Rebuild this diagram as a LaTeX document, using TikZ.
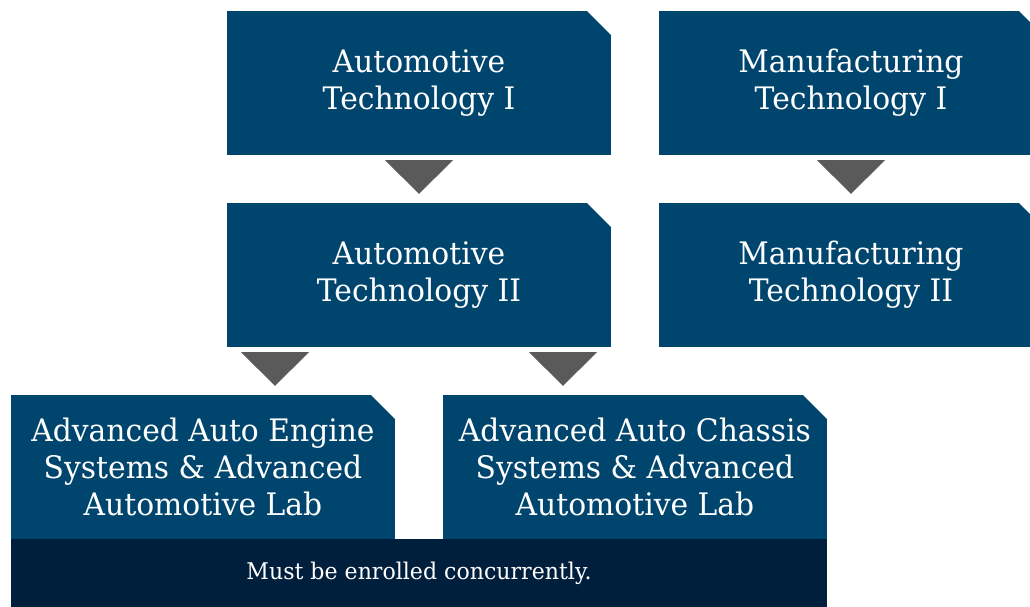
\documentclass[tikz,border=0pt]{standalone}
\usepackage{fontspec}
\setmainfont[FakeStretch=0.96]{DejaVu Serif}
\usepackage{tikz}
\usetikzlibrary{calc}
\definecolor{boxblue}{HTML}{00456E}
\definecolor{bandnavy}{HTML}{001F3D}
\definecolor{arrowgray}{HTML}{5A5A5A}
\tikzset{
  course/.style={fill=boxblue, text=white, minimum width=384pt, minimum height=144pt,
    inner sep=0pt, align=center, font=\fontsize{31}{37}\selectfont,
    path picture={\fill[white] (path picture bounding box.north east) -- ++(-24pt,0pt) -- ++(24pt,-24pt) -- cycle;}},
  note/.style={fill=bandnavy, text=white, minimum width=816pt, minimum height=68pt,
    inner sep=0pt, font=\fontsize{23}{28}\selectfont},
  down/.style={fill=arrowgray},
}

\begin{document}
\begin{tikzpicture}[x=1pt, y=-1pt]
\useasboundingbox (0,0) rectangle (1030,607);
\clip (0,0) rectangle (1030,607);
\node[course](auto1) at (419,83) {Automotive\\Technology I};
\node[course](manu1) at (851,83) {Manufacturing\\Technology I};
\node[course](auto2) at (419,275) {Automotive\\Technology II};
\node[course](manu2) at (851,275) {Manufacturing\\Technology II};
\node[course](engine) at (203,467) {Advanced Auto Engine\\Systems \& Advanced\\Automotive Lab};
\node[course](chassis) at (635,467) {Advanced Auto Chassis\\Systems \& Advanced\\Automotive Lab};
\node[note](band) at (419,573) {Must be enrolled concurrently.};
%
\fill[down] ($(auto1.south)+(-34pt,-5pt)$) -- ($(auto1.south)+(34pt,-5pt)$) -- ($(auto2.north)+(0pt,9pt)$) -- cycle;
\fill[down] ($(manu1.south)+(-34pt,-5pt)$) -- ($(manu1.south)+(34pt,-5pt)$) -- ($(manu2.north)+(0pt,9pt)$) -- cycle;
\fill[down] ($(auto2.south)+(-178pt,-5pt)$) -- ($(auto2.south)+(-110pt,-5pt)$) -- ($(engine.north)+(72pt,9pt)$) -- cycle;
\fill[down] ($(auto2.south)+(110pt,-5pt)$) -- ($(auto2.south)+(178pt,-5pt)$) -- ($(chassis.north)+(-72pt,9pt)$) -- cycle;
\end{tikzpicture}
\end{document}
